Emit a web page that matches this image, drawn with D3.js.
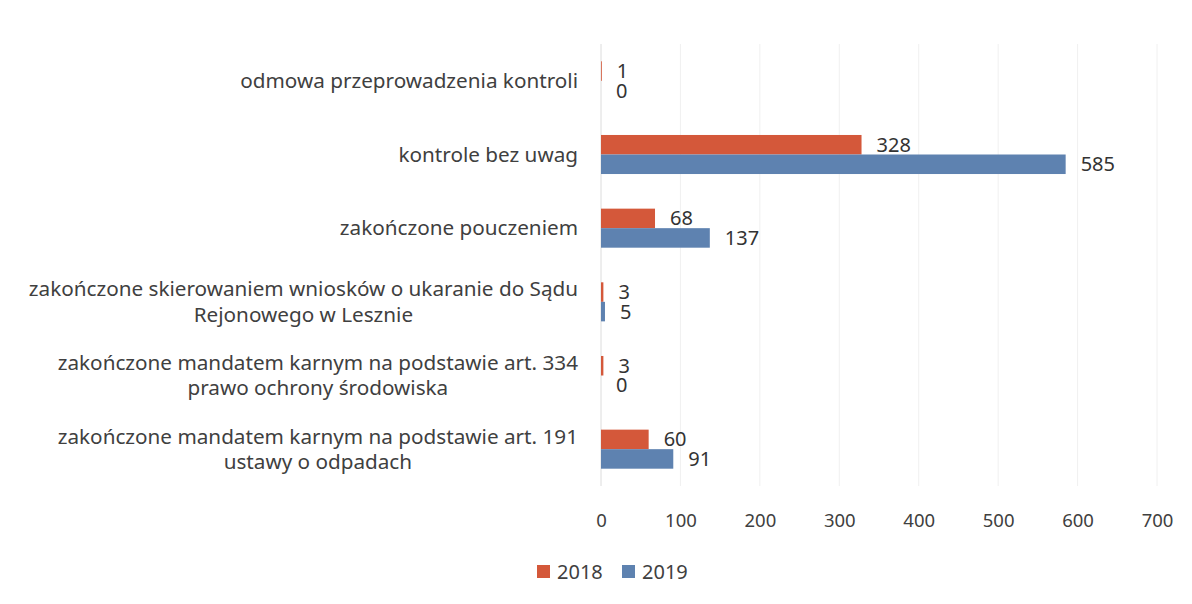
<!DOCTYPE html>
<html>
<head>
<meta charset="utf-8">
<script src="https://cdn.jsdelivr.net/npm/d3@7"></script>
<style>
  body { margin: 0; background: #fff; }
  text { font-family: "Noto Sans", "Open Sans", sans-serif; }
</style>
</head>
<body>
<div id="chart"></div>
<script>
var categories = [
      "odmowa przeprowadzenia kontroli",
      "kontrole bez uwag",
      "zakończone pouczeniem",
      "zakończone skierowaniem wniosków o ukaranie do Sądu\nRejonowego w Lesznie",
      "zakończone mandatem karnym na podstawie art. 334\nprawo ochrony środowiska",
      "zakończone mandatem karnym na podstawie art. 191\nustawy o odpadach"
];
var values2018 = [1, 328, 68, 3, 3, 60];
var values2019 = [0, 585, 137, 5, 0, 91];
var seriesNames = ["2018", "2019"];
var xTicks = [0, 100, 200, 300, 400, 500, 600, 700];

var colors = { "2018": "#d4583a", "2019": "#5e82b0" };

var W = 1192, H = 604;
var svg = d3.select("#chart").append("svg")
      .attr("width", W)
      .attr("height", H);

var x = d3.scaleLinear()
      .domain([0, 700])
      .range([601, 1157]);

var y = d3.scaleBand()
      .domain(categories)
      .range([44, 486])
      .paddingInner(0.47)
      .paddingOuter(0.235);

var ySub = d3.scaleBand()
      .domain(seriesNames)
      .range([0, y.bandwidth()]);

var rows = categories.map(function (c, i) {
      return { cat: c, v: { "2018": values2018[i], "2019": values2019[i] } };
});

// gridlines
svg.append("g")
      .selectAll("line")
      .data(xTicks)
      .enter().append("line")
      .attr("x1", function (d) { return x(d); })
      .attr("x2", function (d) { return x(d); })
      .attr("y1", 44)
      .attr("y2", 486)
      .attr("stroke", function (d) { return d === 0 ? "#dcdcdc" : "#f0f0f0"; })
      .attr("stroke-width", 1);

// bars
var groups = svg.selectAll(".row")
      .data(rows)
      .enter().append("g")
      .attr("class", "row")
      .attr("transform", function (d) { return "translate(0," + y(d.cat) + ")"; });

seriesNames.forEach(function (s) {
      groups.append("rect")
            .attr("x", x(0))
            .attr("y", ySub(s))
            .attr("width", function (d) { return x(d.v[s]) - x(0); })
            .attr("height", ySub.bandwidth())
            .attr("fill", colors[s]);

      groups.append("text")
            .attr("x", function (d) { return x(d.v[s]) + 15; })
            .attr("y", ySub(s) + ySub.bandwidth() / 2)
            .attr("dy", "0.35em")
            .attr("font-size", 20)
            .attr("fill", "#333")
            .text(function (d) { return d.v[s]; });
});

// category labels (multi-line, centred under the longest line, right edge at 578)
svg.selectAll(".cat")
      .data(rows)
      .enter().append("text")
      .attr("class", "cat")
      .attr("font-size", 20.7)
      .attr("fill", "#404040")
      .attr("text-anchor", "middle")
      .each(function (d) {
            var t = d3.select(this);
            var lines = d.cat.split("\n");
            var cy = y(d.cat) + y.bandwidth() / 2;
            var lh = 25.5;
            var y0 = cy - (lines.length - 1) * lh / 2;
            lines.forEach(function (l, i) {
                  t.append("tspan")
                        .attr("y", y0 + i * lh)
                        .attr("dy", "0.35em")
                        .text(l);
            });
            var maxW = 0;
            t.selectAll("tspan").each(function () {
                  maxW = Math.max(maxW, this.getComputedTextLength());
            });
            t.selectAll("tspan").attr("x", 578 - maxW / 2);
      });

// x axis labels
var xAxis = d3.axisBottom(x)
      .tickValues(xTicks)
      .tickSize(0)
      .tickPadding(0);

var axisG = svg.append("g")
      .attr("transform", "translate(0,514)")
      .call(xAxis);
axisG.select(".domain").remove();
axisG.selectAll("text")
      .attr("font-size", 18.5)
      .attr("fill", "#404040")
      .style("font-family", "'Noto Sans', 'Open Sans', sans-serif");

// legend
var legend = svg.append("g")
      .attr("transform", "translate(537,572)");
var lx = [0, 85];
seriesNames.forEach(function (s, i) {
      legend.append("rect")
            .attr("x", lx[i])
            .attr("y", -7)
            .attr("width", 13)
            .attr("height", 13)
            .attr("fill", colors[s]);
      legend.append("text")
            .attr("x", lx[i] + 20)
            .attr("y", 0)
            .attr("dy", "0.35em")
            .attr("font-size", 20)
            .attr("fill", "#404040")
            .text(s);
});
</script>
</body>
</html>
